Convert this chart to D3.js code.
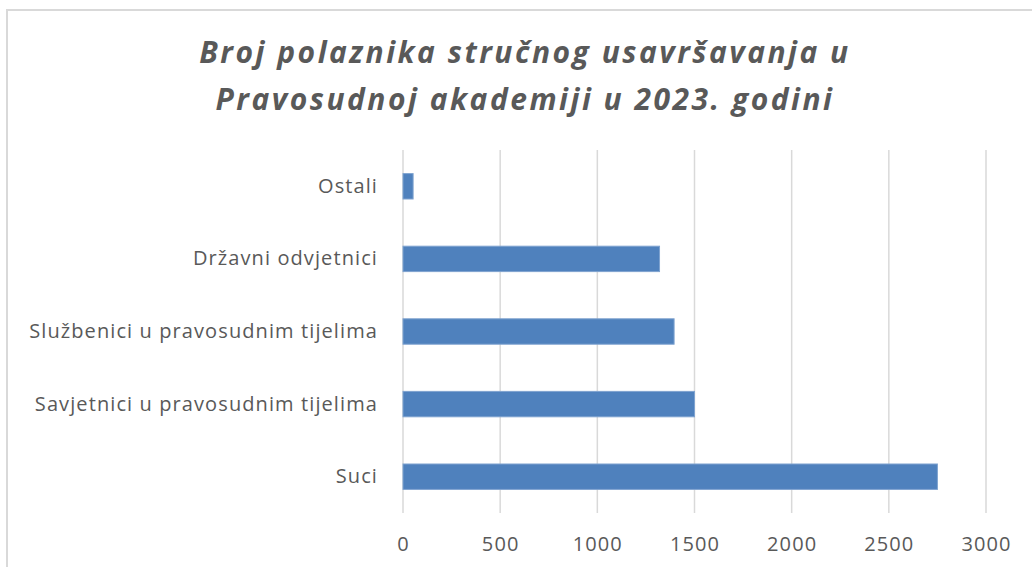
<!DOCTYPE html>
<html>
<head>
<meta charset="utf-8">
<script src="https://cdn.jsdelivr.net/npm/d3@7"></script>
<style>
  body { margin: 0; background: #fff; }
  text { font-family: "Open Sans", sans-serif; }
</style>
</head>
<body>
<div id="chart"></div>
<script>
const categories = ["Ostali", "Državni odvjetnici", "Službenici u pravosudnim tijelima", "Savjetnici u pravosudnim tijelima", "Suci"];
const values = [52, 1320, 1395, 1500, 2750];
const xTicks = [0, 500, 1000, 1500, 2000, 2500, 3000];
const titleLines = ["Broj polaznika stručnog usavršavanja u", "Pravosudnoj akademiji u 2023. godini"];

const W = 1032, H = 567;
const margin = { top: 150, right: 46, bottom: 54, left: 403 };
const width = W - margin.left - margin.right;
const height = H - margin.top - margin.bottom;

const svg = d3.select("#chart").append("svg")
    .attr("width", W)
    .attr("height", H);

// chart frame (cropped on right / bottom)
svg.append("rect")
    .attr("x", 7).attr("y", 10)
    .attr("width", W + 20).attr("height", H + 20)
    .attr("fill", "none")
    .attr("stroke", "#d9d9d9")
    .attr("stroke-width", 2);

// title
svg.append("text")
    .attr("text-anchor", "middle")
    .attr("font-size", 30)
    .attr("font-weight", "bold")
    .attr("font-style", "italic")
    .attr("letter-spacing", 2.5)
    .attr("fill", "#595959")
    .selectAll("tspan")
    .data(titleLines)
    .enter().append("tspan")
    .attr("x", 525)
    .attr("y", (d, i) => 63 + i * 47)
    .text(d => d);

const g = svg.append("g").attr("transform", `translate(${margin.left},${margin.top})`);

const x = d3.scaleLinear()
    .domain([0, 3000])
    .range([0, width]);

const y = d3.scaleBand()
    .domain(categories)
    .range([0, height])
    .paddingInner(0.65)
    .paddingOuter(0.325);

// gridlines
g.selectAll(".grid")
    .data(xTicks)
    .enter().append("line")
    .attr("x1", d => x(d)).attr("x2", d => x(d))
    .attr("y1", 0).attr("y2", height)
    .attr("stroke", "#d9d9d9")
    .attr("stroke-width", 1.5);

// x axis labels
const xAxis = g.append("g")
    .attr("transform", `translate(0,${height})`)
    .call(d3.axisBottom(x).tickValues(xTicks).tickFormat(d3.format("d")).tickSize(0).tickPadding(24));
xAxis.select(".domain").remove();
xAxis.selectAll("text")
    .attr("font-size", 20)
    .attr("letter-spacing", 1.1)
    .attr("font-family", "Open Sans, sans-serif")
    .attr("fill", "#595959");

// y axis labels
const yAxis = g.append("g")
    .call(d3.axisLeft(y).tickSize(0).tickPadding(25));
yAxis.select(".domain").remove();
yAxis.selectAll("text")
    .attr("font-size", 20)
    .attr("letter-spacing", 1.1)
    .attr("font-family", "Open Sans, sans-serif")
    .attr("fill", "#595959");

// bars
g.selectAll(".bar")
    .data(categories)
    .enter().append("rect")
    .attr("x", x(0))
    .attr("y", d => y(d))
    .attr("width", (d, i) => x(values[i]) - x(0))
    .attr("height", y.bandwidth())
    .attr("fill", "#4f81bd")
    .attr("stroke", "#7fa3d0")
    .attr("stroke-width", 1);
</script>
</body>
</html>
